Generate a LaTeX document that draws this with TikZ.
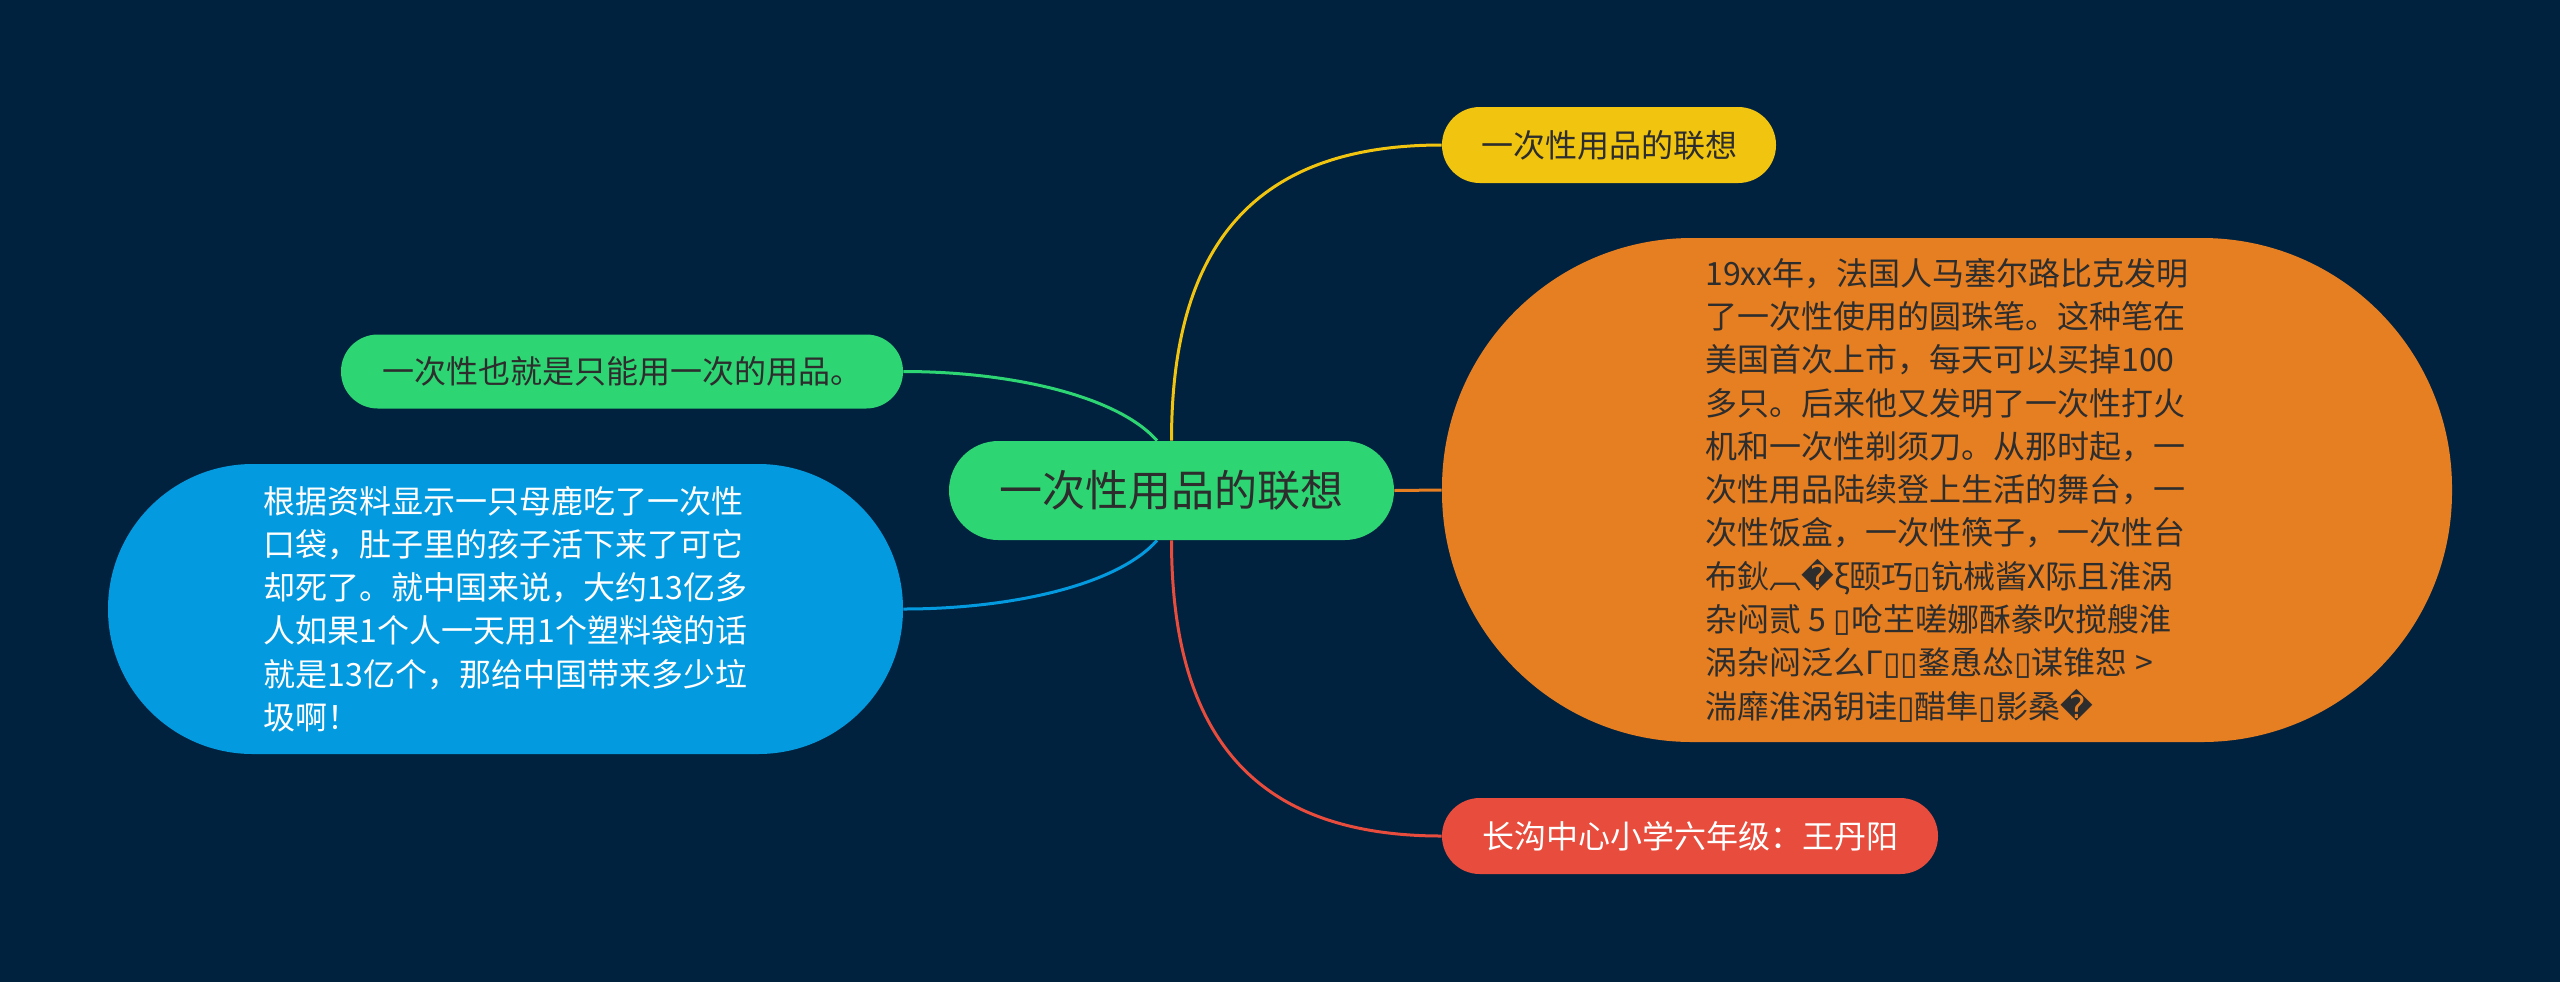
\documentclass[tikz,border=0pt]{standalone}
\usepackage{fontspec}
\setmainfont{Noto Sans CJK SC}
\newfontfamily\dvfont{DejaVu Sans}
\newcommand{\rpch}{{\dvfont\char"FFFD}}
\newcommand{\bxch}{{\dvfont\char"25AF}}
\pgfdeclarelayer{bg}
\pgfsetlayers{bg,main}
\definecolor{navy}{RGB}{1,34,63}
\definecolor{cgreen}{RGB}{46,213,115}
\definecolor{cyellow}{RGB}{241,196,15}
\definecolor{corange}{RGB}{230,126,34}
\definecolor{cred}{RGB}{231,76,60}
\definecolor{cblue}{RGB}{4,154,223}
\definecolor{ink}{RGB}{45,45,45}
\begin{document}
\begin{tikzpicture}[x=0.5pt,y=-0.5pt,
  pill/.style={rectangle, inner sep=0pt, align=left, font=\fontsize{16pt}{21.65pt}\selectfont},
  link/.style={line width=1.5pt}]
\useasboundingbox (0,0) rectangle (2560,981);
\begin{pgfonlayer}{bg}
\fill[navy] (-10,-10) rectangle (2570,991);
\end{pgfonlayer}

\node[pill, fill=cgreen, text=ink, minimum width=222.5pt, minimum height=49.5pt,
      rounded corners=24.7pt, font=\fontsize{21.5pt}{26pt}\selectfont] (c) at (1171.5,490.5) {一次性用品的联想};

\node[pill, fill=cyellow, text=ink, minimum width=167pt, minimum height=38pt,
      rounded corners=18.9pt] (y) at (1609,145) {一次性用品的联想};

\node[pill, fill=corange, text=ink, minimum width=505pt, minimum height=252pt,
      rounded corners=125pt] (o) at (1947,490) {%
19xx年，法国人马塞尔路比克发明\\%
了一次性使用的圆珠笔。这种笔在\\%
美国首次上市，每天可以买掉100\\%
多只。后来他又发明了一次性打火\\%
机和一次性剃须刀。从那时起，一\\%
次性用品陆续登上生活的舞台，一\\%
次性饭盒，一次性筷子，一次性台\\%
布鈥︹\rpch{}ξ颐巧\bxch{}钪械酱X际且淮涡\\%
杂闷贰 5 \bxch{}呛芏嗟娜酥豢吹搅艘淮\\%
涡杂闷泛么Γ\bxch{}\bxch{}鍪恿怂\bxch{}谋锥恕 >\\%
湍靡淮涡钥诖\bxch{}醋隼\bxch{}影桑\rpch{}};

\node[pill, fill=cred, text=white, minimum width=248pt, minimum height=38pt,
      rounded corners=18.9pt] (r) at (1690,836) {长沟中心小学六年级：王丹阳};

\node[pill, fill=cgreen, text=ink, minimum width=281pt, minimum height=37pt,
      rounded corners=18.4pt] (g) at (622,371.5) {一次性也就是只能用一次的用品。};

\node[pill, fill=cblue, text=white, minimum width=397.5pt, minimum height=145pt,
      rounded corners=72.4pt] (b) at (505.5,609) {%
根据资料显示一只母鹿吃了一次性\\%
口袋，肚子里的孩子活下来了可它\\%
却死了。就中国来说，大约13亿多\\%
人如果1个人一天用1个塑料袋的话\\%
就是13亿个，那给中国带来多少垃\\%
圾啊！};

\begin{pgfonlayer}{bg}
\draw[link, cyellow] (c.north) .. controls +(0,100pt) and +(-91.5pt,0) .. (y.west);
\draw[link, corange] (c.east) -- (o.west);
\draw[link, cred] (c.south) .. controls +(0,-100pt) and +(-91.5pt,0) .. (r.west);
\draw[link, cgreen] ([xshift=-7.25pt]c.north) .. controls +(-20pt,22.5pt) and +(53.5pt,0) .. (g.east);
\draw[link, cblue] ([xshift=-7.25pt]c.south) .. controls +(-20pt,-22.5pt) and +(53.5pt,0) .. (b.east);
\end{pgfonlayer}
\end{tikzpicture}
\end{document}
